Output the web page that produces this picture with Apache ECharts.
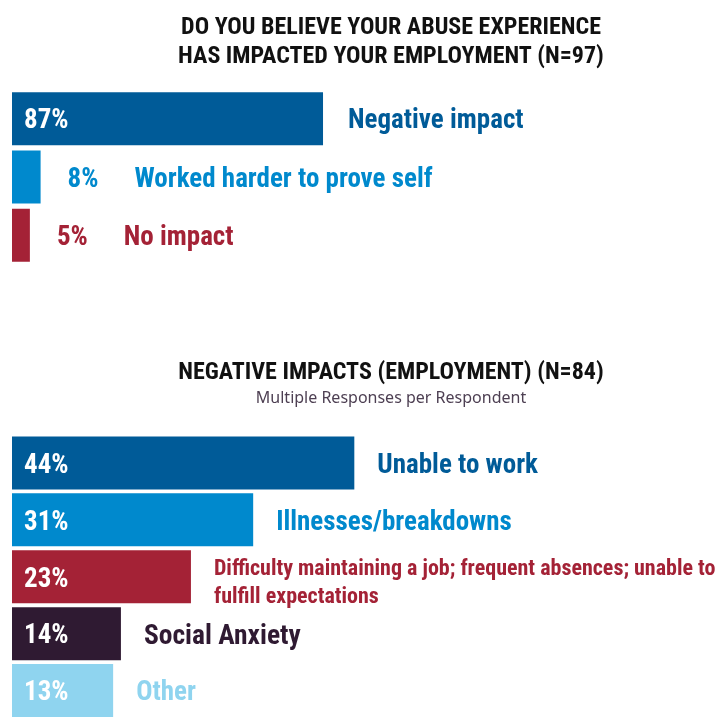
<!DOCTYPE html>
<html><head><meta charset="utf-8">
<script src="https://cdn.jsdelivr.net/npm/echarts@6/dist/echarts.min.js"></script>
<style>html,body{margin:0;padding:0;background:#fff;}#c{width:726px;height:719px;}</style>
</head><body><div id="c"></div>
<script>
var topTitle = 'DO YOU BELIEVE YOUR ABUSE EXPERIENCE\nHAS IMPACTED YOUR EMPLOYMENT (N=97)';
var topCategories = ['Negative impact', 'Worked harder to prove self', 'No impact'];
var topValues = [87, 8, 5];
var bottomTitle = 'NEGATIVE IMPACTS (EMPLOYMENT) (N=84)';
var bottomSubtitle = 'Multiple Responses per Respondent';
var bottomCategories = ['Unable to work', 'Illnesses/breakdowns', 'Difficulty maintaining a job; frequent absences; unable to\nfulfill expectations', 'Social Anxiety', 'Other'];
var bottomValues = [44, 31, 23, 14, 13];

var topColors = ['#005b98', '#0089cd', '#a42236'];
var bottomColors = ['#005b98', '#0089cd', '#a42236', '#2f1a32', '#8fd4ef'];
var FONT = "'Roboto Condensed','DejaVu Sans Condensed',sans-serif";

function barData(vals, cols, insideMin) {
  return vals.map(function (v, i) {
    return {
      value: v,
      itemStyle: { color: cols[i] },
      label: { show: v >= insideMin }
    };
  });
}
function nameData(vals, cats, cols, insideMin, nameSize, offs) {
  return vals.map(function (v, i) {
    var small = v < insideMin;
    return {
      value: v,
      label: {
        show: true,
        offset: [small ? 2 : 0, offs[i]],
        formatter: small ? '{p|' + v + '%}{n|' + cats[i] + '}' : '{n|' + cats[i] + '}',
        rich: {
          p: { fontFamily: FONT, fontWeight: 'bold', fontSize: 27, color: cols[i], padding: [0, 36, 0, 0] },
          n: { fontFamily: FONT, fontWeight: 'bold', fontSize: nameSize[i], lineHeight: 28, color: cols[i] }
        }
      }
    };
  });
}

var chart = echarts.init(document.getElementById('c'));
chart.setOption({
  animation: false,
  backgroundColor: '#ffffff',
  title: [
    { text: topTitle, left: 386, top: 8, textAlign: 'center',
      textStyle: { fontFamily: FONT, fontWeight: 'bold', fontSize: 24, lineHeight: 29, color: '#111' } },
    { text: bottomTitle, subtext: bottomSubtitle, left: 386, top: 353, textAlign: 'center', itemGap: 2,
      textStyle: { fontFamily: FONT, fontWeight: 'bold', fontSize: 24, lineHeight: 29, color: '#111' },
      subtextStyle: { fontFamily: "'Noto Sans',sans-serif", fontSize: 16, lineHeight: 18, color: '#4d3f52' } }
  ],
  grid: [
    { left: 12, top: 89.5, width: 357.5, height: 175 },
    { left: 12, top: 434.5, width: 389, height: 290 }
  ],
  xAxis: [
    { gridIndex: 0, type: 'value', min: 0, max: 100, show: false },
    { gridIndex: 1, type: 'value', min: 0, max: 50, show: false }
  ],
  yAxis: [
    { gridIndex: 0, type: 'category', data: topCategories, inverse: true, show: false },
    { gridIndex: 1, type: 'category', data: bottomCategories, inverse: true, show: false }
  ],
  series: [
    { type: 'bar', xAxisIndex: 0, yAxisIndex: 0, barWidth: 53, barGap: '-100%',
      data: barData(topValues, topColors, 20),
      label: { position: 'insideLeft', distance: 12, offset: [0, 3], formatter: '{c}%', color: '#fff',
        fontFamily: FONT, fontWeight: 'bold', fontSize: 27 } },
    { type: 'bar', xAxisIndex: 0, yAxisIndex: 0, barWidth: 53, barGap: '-100%',
      itemStyle: { color: 'rgba(0,0,0,0)' }, silent: true,
      data: nameData(topValues, topCategories, topColors, 20, [27, 27, 27], [3, 3, 3]),
      label: { position: 'right', distance: 25 } },
    { type: 'bar', xAxisIndex: 1, yAxisIndex: 1, barWidth: 53, barGap: '-100%',
      data: barData(bottomValues, bottomColors, 5),
      label: { position: 'insideLeft', distance: 12, offset: [0, 3], formatter: '{c}%', color: '#fff',
        fontFamily: FONT, fontWeight: 'bold', fontSize: 27 } },
    { type: 'bar', xAxisIndex: 1, yAxisIndex: 1, barWidth: 53, barGap: '-100%',
      itemStyle: { color: 'rgba(0,0,0,0)' }, silent: true,
      data: nameData(bottomValues, bottomCategories, bottomColors, 5, [27, 27, 22, 27.5, 27], [3, 3, 7, 3, 3]),
      label: { position: 'right', distance: 23 } }
  ]
});
</script></body></html>
